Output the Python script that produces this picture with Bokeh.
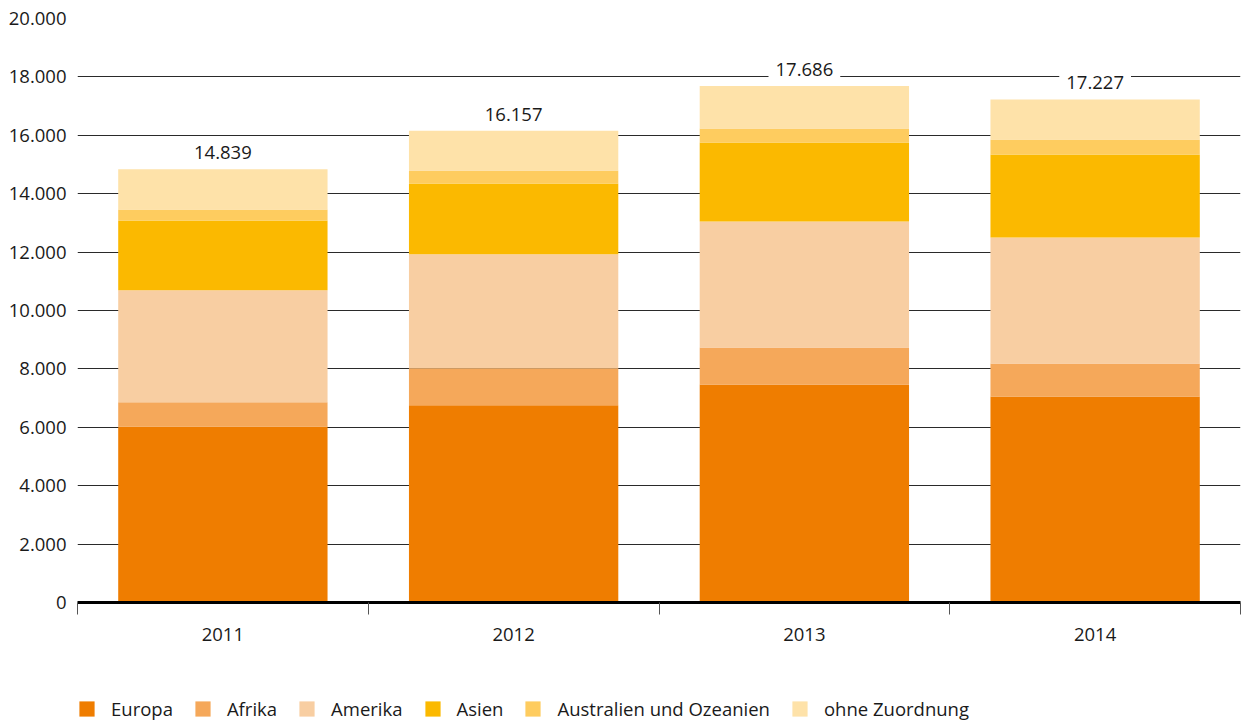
from bokeh.plotting import figure
from bokeh.layouts import column
from bokeh.models import ColumnDataSource, FixedTicker, Range1d, Legend, LegendItem, Label
from bokeh.embed import file_html
from bokeh.resources import INLINE

years = ["2011", "2012", "2013", "2014"]
series = ["Europa", "Afrika", "Amerika", "Asien", "Australien und Ozeanien", "ohne Zuordnung"]
europa = [6027, 6758, 7466, 7055]
afrika = [833, 1266, 1267, 1130]
amerika = [3835, 3904, 4315, 4315]
asien = [2387, 2421, 2705, 2842]
australien = [377, 446, 480, 514]
ohne = [1380, 1362, 1453, 1371]
totals = [14839, 16157, 17686, 17227]
total_labels = ["14.839", "16.157", "17.686", "17.227"]
y_ticks = [0, 2000, 4000, 6000, 8000, 10000, 12000, 14000, 16000, 18000, 20000]
y_tick_labels = ["0", "2.000", "4.000", "6.000", "8.000", "10.000", "12.000",
                 "14.000", "16.000", "18.000", "20.000"]
colors = ["#EF7D00", "#F5A85A", "#F8CEA2", "#FBB900", "#FECC5F", "#FEE2A9"]

FONT = "Open Sans"
xpos = [i + 0.5 for i in range(len(years))]
keys = ["europa", "afrika", "amerika", "asien", "australien", "ohne"]
src = ColumnDataSource(dict(x=xpos, europa=europa, afrika=afrika, amerika=amerika,
                            asien=asien, australien=australien, ohne=ohne))

p = figure(width=1248, height=690, output_backend="svg", toolbar_location=None,
           x_range=Range1d(0, len(years)), y_range=Range1d(0, 20000),
           min_border_left=77, min_border_right=8, min_border_top=18, min_border_bottom=88)
p.outline_line_color = None
p.background_fill_color = "white"
p.xgrid.grid_line_color = None
p.ygrid.grid_line_color = "#2a2a2a"
p.ygrid.grid_line_width = 1
p.ygrid.ticker = FixedTicker(ticks=y_ticks)

p.vbar_stack(keys, x="x", width=0.72, source=src, color=colors, line_color=None)

# y axis
p.yaxis.ticker = FixedTicker(ticks=y_ticks)
p.yaxis.major_label_overrides = {t: l for t, l in zip(y_ticks, y_tick_labels)}
p.yaxis.axis_line_color = None
p.yaxis.major_tick_line_color = None
p.yaxis.minor_tick_line_color = None
p.yaxis.major_label_standoff = 5
p.yaxis.major_label_text_font = FONT
p.yaxis.major_label_text_font_size = "18.5px"
p.yaxis.major_label_text_color = "#1a1a1a"

# x axis
p.xaxis.ticker = FixedTicker(ticks=xpos, minor_ticks=list(range(len(years) + 1)))
p.xaxis.major_label_overrides = {x: y for x, y in zip(xpos, years)}
p.xaxis.axis_line_color = "black"
p.xaxis.axis_line_width = 3
p.xaxis.major_tick_line_color = None
p.xaxis.major_tick_out = 0
p.xaxis.major_tick_in = 0
p.xaxis.minor_tick_line_color = "#555555"
p.xaxis.minor_tick_line_width = 1
p.xaxis.minor_tick_out = 12
p.xaxis.minor_tick_in = 0
p.xaxis.major_label_standoff = 13
p.xaxis.major_label_text_font = FONT
p.xaxis.major_label_text_font_size = "18.5px"
p.xaxis.major_label_text_color = "#1a1a1a"

for x, t, lab in zip(xpos, totals, total_labels):
    p.add_layout(Label(x=x, y=t, text=lab, text_align="center", text_baseline="bottom",
                       y_offset=3, text_font=FONT, text_font_size="18.5px",
                       text_color="#1a1a1a", background_fill_color="white",
                       background_fill_alpha=1.0, padding=7))

# legend in a separate strip below the chart (its renderers are hidden)
lg = figure(width=1248, height=35, output_backend="svg", toolbar_location=None,
            x_range=Range1d(-101, -100), y_range=Range1d(-101, -100),
            x_axis_location=None, y_axis_location=None,
            min_border_left=0, min_border_right=0, min_border_top=0, min_border_bottom=0)
lg.outline_line_color = None
lg.xgrid.visible = False
lg.ygrid.visible = False
lg_renderers = lg.vbar_stack(keys, x="x", width=0.72, source=src, color=colors, line_color=None)
for r in lg_renderers:
    r.visible = False
items = [LegendItem(label=s, renderers=[r]) for s, r in zip(series, lg_renderers)]
legend = Legend(items=items, orientation="horizontal", location=(0, 4),
                glyph_width=19, glyph_height=19, label_standoff=15, spacing=20,
                padding=0, margin=0, border_line_color=None, background_fill_alpha=0,
                inactive_fill_alpha=0,
                label_text_font=FONT, label_text_font_size="18.5px", label_text_color="#1a1a1a",
                label_height=19)
lg.add_layout(legend, "center")

open("out.html", "w").write(file_html(column(p, lg, spacing=0), INLINE))
